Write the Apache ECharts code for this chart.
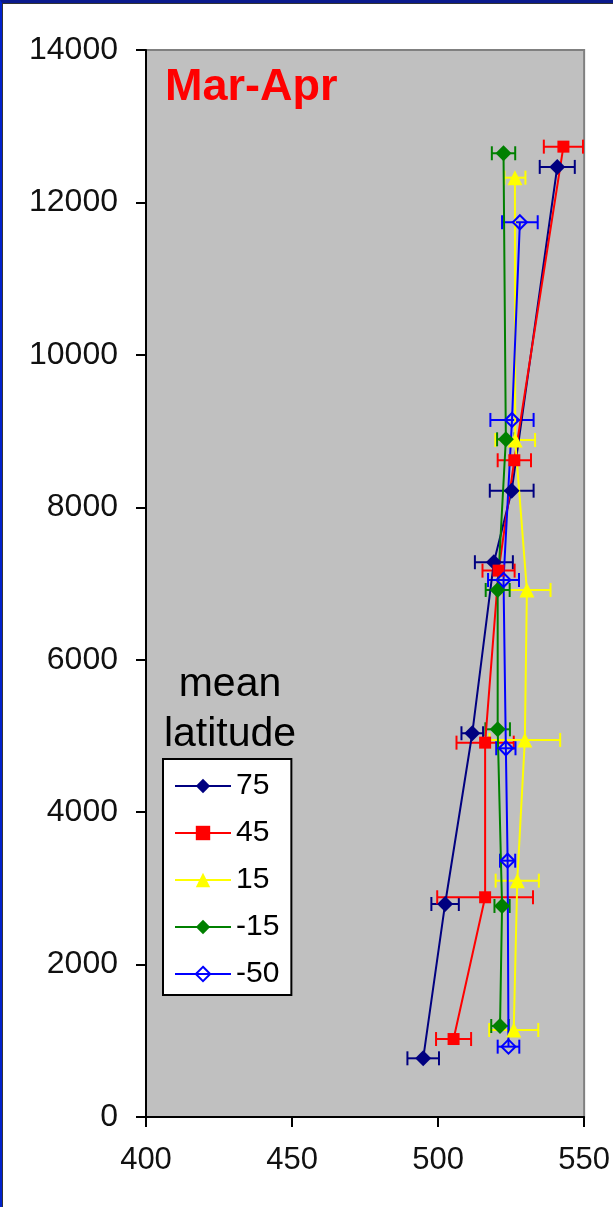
<!DOCTYPE html>
<html>
<head>
<meta charset="utf-8">
<script src="https://cdn.jsdelivr.net/npm/echarts@6/dist/echarts.min.js"></script>
<style>
html,body{margin:0;padding:0;background:#fff;}
#chart{position:absolute;left:0;top:0;width:613px;height:1207px;}
#frame{position:absolute;left:0;top:0;width:613px;height:1207px;box-sizing:border-box;border-left:2px solid #0022CC;border-top:3px solid #0A1A8C;pointer-events:none;}
#frame2{position:absolute;left:2px;top:3px;width:611px;height:1204px;box-sizing:border-box;border-left:1px solid #333;border-top:1px solid #333;pointer-events:none;}
</style>
</head>
<body>
<div id="chart"></div>
<div id="frame"></div>
<div id="frame2"></div>
<script>
// Data (x = value, y = altitude, err = half-width of horizontal error bar)
const seriesNames = ['75', '45', '15', '-15', '-50'];
const x75  = [494.9, 502.4, 511.7, 519.1, 525.2, 540.8];
const y75  = [770, 2795, 5035, 7279, 8218, 12466];
const e75  = [5.4, 4.7, 3.7, 6.5, 7.5, 6.0];
const x45  = [505.3, 516.1, 516.1, 520.7, 526.1, 542.9];
const y45  = [1023, 2883, 4912, 7169, 8617, 12732];
const e45  = [6.0, 16.4, 9.8, 5.5, 5.7, 6.7];
const x15  = [525.9, 527.1, 529.7, 530.4, 526.4, 526.3];
const y15  = [1142, 3101, 4947, 6915, 8883, 12325];
const e15  = [8.4, 7.4, 12.1, 8.1, 6.8, 3.6];
const xm15 = [521.2, 521.9, 520.4, 520.4, 523.2, 522.4];
const ym15 = [1194, 2769, 5087, 6915, 8892, 12645];
const em15 = [3.0, 2.6, 4.2, 4.1, 3.0, 4.0];
const xm50 = [524.1, 523.8, 523.2, 522.4, 525.3, 528.0];
const ym50 = [923, 3363, 4838, 7046, 9146, 11740];
const em50 = [3.7, 2.6, 3.3, 5.3, 7.4, 6.1];
const xTicks = [400, 450, 500, 550];
const yTicks = [0, 2000, 4000, 6000, 8000, 10000, 12000, 14000];

const xs = [x75, x45, x15, xm15, xm50];
const ys = [y75, y45, y15, ym15, ym50];
const es = [e75, e45, e15, em15, em50];
const colors = ['#000080', '#FF0000', '#FFFF00', '#008000', '#0000FF'];
const symbols = ['diamond', 'rect', 'triangle', 'diamond', 'diamond'];
const symSizes = [16, 12, 15, 16, 14];

const FONT = '"Liberation Sans", Arial, sans-serif';

function errRender(color) {
  return function (params, api) {
    const x = api.value(0), y = api.value(1), e = api.value(2);
    const p0 = api.coord([x - e, y]);
    const p1 = api.coord([x + e, y]);
    const h = 7;
    const st = {stroke: color, lineWidth: 2};
    return {
      type: 'group',
      children: [
        {type: 'line', shape: {x1: p0[0], y1: p0[1], x2: p1[0], y2: p1[1]}, style: st},
        {type: 'line', shape: {x1: p0[0], y1: p0[1] - h, x2: p0[0], y2: p0[1] + h}, style: st},
        {type: 'line', shape: {x1: p1[0], y1: p1[1] - h, x2: p1[0], y2: p1[1] + h}, style: st}
      ]
    };
  };
}

const series = [];
seriesNames.forEach(function (name, i) {
  const pts = xs[i].map(function (v, k) { return [v, ys[i][k]]; });
  const epts = xs[i].map(function (v, k) { return [v, ys[i][k], es[i][k]]; });
  series.push({
    type: 'custom',
    name: 'err' + name,
    renderItem: errRender(colors[i]),
    data: epts,
    encode: {x: 0, y: 1},
    silent: true,
    clip: false,
    z: 2
  });
  const isHollow = (i === 4);
  series.push({
    type: 'line',
    name: name,
    data: pts,
    symbol: symbols[i],
    symbolSize: symSizes[i],
    showAllSymbol: true,
    lineStyle: {color: colors[i], width: 2},
    itemStyle: isHollow
      ? {color: 'rgba(0,0,0,0)', borderColor: colors[i], borderWidth: 2}
      : {color: colors[i], borderWidth: 0},
    z: 2
  });
});

const chart = echarts.init(document.getElementById('chart'), null, {renderer: 'canvas'});
chart.setOption({
  animation: false,
  backgroundColor: '#ffffff',
  title: {
    text: 'Mar-Apr',
    left: 160,
    top: 60,
    textStyle: {color: '#FF0000', fontWeight: 'bold', fontSize: 45, fontFamily: FONT}
  },
  grid: {
    left: 146, right: 26, top: 50, bottom: 90,
    show: true, backgroundColor: '#C0C0C0', borderColor: '#808080', borderWidth: 2
  },
  xAxis: {
    type: 'value', min: xTicks[0], max: xTicks[xTicks.length - 1], interval: 50,
    axisLine: {show: true, onZero: false, lineStyle: {color: '#000', width: 2}},
    axisTick: {show: true, inside: false, length: 10, lineStyle: {color: '#000', width: 2}},
    axisLabel: {margin: 28, color: '#111', fontSize: 31, fontFamily: FONT, formatter: function (v) { return String(v); }},
    splitLine: {show: false}
  },
  yAxis: {
    type: 'value', min: yTicks[0], max: yTicks[yTicks.length - 1], interval: 2000,
    axisLine: {show: true, onZero: false, lineStyle: {color: '#000', width: 2}},
    axisTick: {show: true, inside: false, length: 10, lineStyle: {color: '#000', width: 2}},
    axisLabel: {margin: 28, color: '#111', fontSize: 32, fontFamily: FONT, formatter: function (v) { return String(v); }},
    splitLine: {show: false}
  },
  legend: {
    data: seriesNames,
    orient: 'vertical',
    left: 163,
    top: 759,
    itemWidth: 56,
    itemHeight: 18,
    itemGap: 17,
    padding: [12, 12, 6, 11],
    backgroundColor: '#ffffff',
    borderColor: '#000000',
    borderWidth: 2,
    borderRadius: 0,
    textStyle: {color: '#000', fontSize: 30, fontFamily: FONT}
  },
  graphic: [{
    type: 'text',
    x: 230,
    y: 660,
    style: {
      text: 'mean\nlatitude',
      textAlign: 'center',
      fontSize: 41,
      lineHeight: 50,
      fontFamily: FONT,
      fill: '#000'
    },
    z: 10
  }],
  series: series
});
</script>
</body>
</html>
